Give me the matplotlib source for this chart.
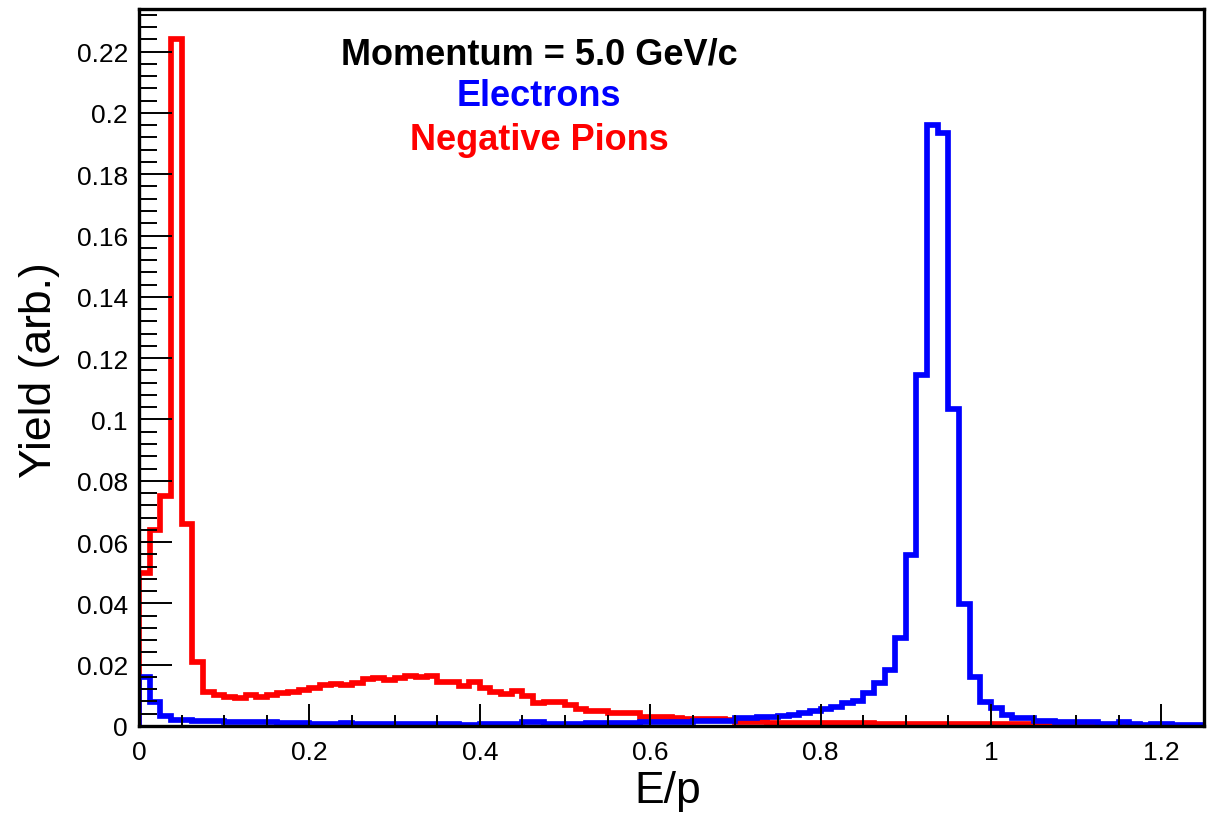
import matplotlib
matplotlib.use("Agg")
import matplotlib.pyplot as plt
import numpy as np
from matplotlib.ticker import MultipleLocator

plt.rcParams['font.family'] = ['Liberation Sans', 'DejaVu Sans']

# E/p histogram: 100 bins from 0 to 1.25
x_min = 0.0
x_max = 1.25
n_bins = 100

pions = [
    0.050, 0.064, 0.075, 0.224, 0.066, 0.021, 0.0110, 0.0102, 0.0096, 0.0090,
    0.0100, 0.0096, 0.0100, 0.0108, 0.0112, 0.0118, 0.0124, 0.0134, 0.0138, 0.0135,
    0.0140, 0.0153, 0.0157, 0.0151, 0.0157, 0.0164, 0.0159, 0.0164, 0.0145, 0.0145,
    0.0131, 0.0145, 0.0123, 0.0110, 0.0104, 0.0113, 0.0097, 0.0075, 0.0079, 0.0079,
    0.0069, 0.0055, 0.0050, 0.0050, 0.0041, 0.0041, 0.0041, 0.0028, 0.0028, 0.0028,
    0.0026, 0.0023, 0.0023, 0.0023, 0.0022, 0.0021, 0.0013, 0.0012, 0.0012, 0.0011,
    0.0009, 0.0009, 0.0009, 0.0009, 0.0009, 0.0009, 0.0009, 0.0009, 0.0009, 0.0005,
    0.0005, 0.0005, 0.0005, 0.0005, 0.0005, 0.0005, 0.0005, 0.0005, 0.0005, 0.0005,
    0.0005, 0.0005, 0.0005, 0.0005, 0.0002, 0.0002, 0.0002, 0.0002, 0.0, 0.0,
    0.0, 0.0, 0.0, 0.0, 0.0, 0.0, 0.0, 0.0, 0.0, 0.0,
]

electrons = [
    0.0159, 0.0077, 0.0034, 0.0021, 0.0018, 0.0016, 0.0015, 0.0015, 0.0014, 0.0014,
    0.0013, 0.0012, 0.0012, 0.0011, 0.0010, 0.0009, 0.0008, 0.0008, 0.0008, 0.0009,
    0.0008, 0.0008, 0.0008, 0.0008, 0.0008, 0.0008, 0.0008, 0.0008, 0.0008, 0.0008,
    0.0004, 0.0004, 0.0008, 0.0008, 0.0008, 0.0008, 0.0012, 0.0012, 0.0008, 0.0008,
    0.0008, 0.0008, 0.0009, 0.0009, 0.0009, 0.0009, 0.0009, 0.0012, 0.0012, 0.0012,
    0.0012, 0.0012, 0.0017, 0.0017, 0.0017, 0.0017, 0.0026, 0.0026, 0.0028, 0.0028,
    0.0034, 0.0036, 0.0041, 0.0048, 0.0055, 0.0063, 0.0074, 0.0083, 0.0109, 0.0140,
    0.0184, 0.0287, 0.0557, 0.1146, 0.1960, 0.1935, 0.1034, 0.0398, 0.0159, 0.0077,
    0.0058, 0.0036, 0.0025, 0.0027, 0.0016, 0.0016, 0.0014, 0.0014, 0.0012, 0.0012,
    0.0005, 0.0005, 0.0012, 0.0008, 0.0004, 0.0008, 0.0005, 0.0004, 0.0004, 0.0004,
]

title_lines = ["Momentum = 5.0 GeV/c", "Electrons", "Negative Pions"]
title_colors = ["black", "#0000ff", "#ff0000"]

edges = np.linspace(x_min, x_max, n_bins + 1)

W, H = 1221, 820
fig = plt.figure(figsize=(W / 100, H / 100), dpi=100)
ax = fig.add_axes([139 / W, (H - 727) / H, (1204 - 139) / W, (727 - 10) / H])

ax.stairs(pions, edges, color="#ff0000", linewidth=4.1, baseline=0)
ax.stairs(electrons, edges, color="#0000ff", linewidth=4.1, baseline=0)

ax.set_xlim(x_min, x_max)
ax.set_ylim(0, 0.2339)

ax.xaxis.set_major_locator(MultipleLocator(0.2))
ax.xaxis.set_minor_locator(MultipleLocator(0.05))
ax.yaxis.set_major_locator(MultipleLocator(0.02))
ax.yaxis.set_minor_locator(MultipleLocator(0.004))

def fmt(v, pos):
    s = f"{v:.2f}".rstrip('0').rstrip('.')
    return s if s else "0"

ax.xaxis.set_major_formatter(plt.FuncFormatter(fmt))
ax.yaxis.set_major_formatter(plt.FuncFormatter(fmt))

ax.tick_params(axis='both', which='both', direction='in', top=False, right=False,
               width=1.4, colors='black', labelsize=19)
ax.tick_params(axis='y', which='major', length=24, pad=8)
ax.tick_params(axis='y', which='minor', length=13)
ax.tick_params(axis='x', which='major', length=16, pad=10)
ax.tick_params(axis='x', which='minor', length=8)

for sp in ax.spines.values():
    sp.set_linewidth(2.4)
    sp.set_color('black')

fig.text(668 / W, 1 - 792 / H, "E/p", fontsize=32, ha='center', va='center')
fig.text(40 / W, 1 - 370 / H, "Yield (arb.)", fontsize=32, ha='center', va='center',
         rotation=90)

ys = [55, 97, 140]
for txt, col, yp in zip(title_lines, title_colors, ys):
    fig.text(539 / W, 1 - yp / H, txt, color=col, fontsize=26, fontweight='bold',
             ha='center', va='center')

fig.savefig("out.png", dpi=100, facecolor='white')
